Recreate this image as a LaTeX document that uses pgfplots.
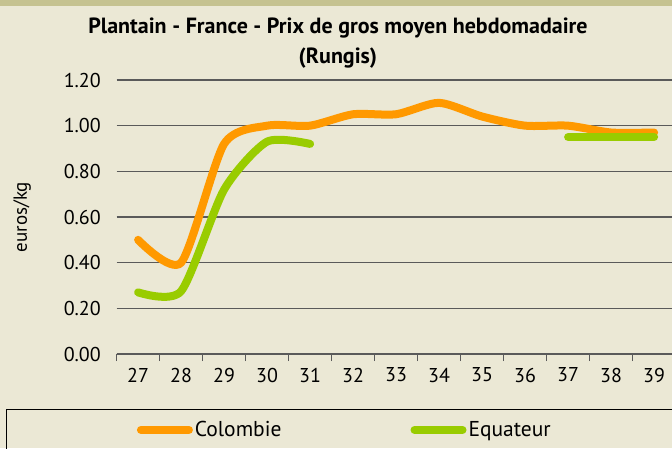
\documentclass[border=0pt]{standalone}
\usepackage{pgfplots}
\pgfplotsset{compat=1.18}
\usepackage{fontspec}
\setmainfont{PT Sans}
\definecolor{bgc}{HTML}{EBE8D5}
\definecolor{bandc}{HTML}{C5C290}
\definecolor{orc}{HTML}{FF9900}
\definecolor{grc}{HTML}{99CC00}
\definecolor{gridc}{HTML}{5A5A5A}
\begin{document}
\begin{tikzpicture}[x=1pt,y=1pt]
\useasboundingbox (0,0) rectangle (672,448);
\clip (0,0) rectangle (672,448);
\fill[bgc] (0,0) rectangle (672,448);
\fill[bandc] (0,442) rectangle (672,448);
\draw[black, line width=1pt] (6,-10) rectangle (690,39);
\begin{axis}[
  at={(116.6pt,94pt)}, anchor=south west,
  width=559pt, height=274pt, scale only axis,
  font=\fontsize{20}{27}\selectfont,
  xmin=26.5, xmax=39.5, ymin=0, ymax=1.2,
  axis x line*=bottom, axis y line*=left,
  x axis line style={draw=gridc, line width=1.2pt},
  y axis line style={draw=none},
  xtick={27,...,39},
  xticklabels={27,28,29,30,31,32,33,34,35,36,37,38,39},
  minor xtick={26.5,27.5,...,39.5},
  major x tick style={draw=none},
  minor x tick style={draw=gridc, line width=1.2pt},
  tick align=outside, minor tick length=7pt,
  xticklabel style={yshift=-6pt},
  ytick={0,0.2,...,1.21},
  ytick style={draw=none},
  ymajorgrids, grid style={draw=gridc, line width=1.2pt},
  /pgf/number format/assume math mode=true,
  yticklabel style={xshift=-8pt, /pgf/number format/.cd, fixed, fixed zerofill, precision=2},
  ylabel={euros/kg},
  ylabel style={at={(axis description cs:-0.169,0.5)}, anchor=center, font=\fontsize{19}{22}\selectfont},
  title={Plantain - France - Prix de gros moyen hebdomadaire\\(Rungis)},
  title style={at={(axis description cs:0.396,1.112)}, anchor=center, align=center, font=\fontsize{22}{30}\selectfont\bfseries},
  legend columns=2,
  legend style={at={(axis description cs:0.036,-0.277)}, anchor=west, draw=none, fill=none, inner sep=0pt,
    font=\fontsize{21.5}{24}\selectfont,
    /tikz/every even column/.append style={column sep=127pt}},
  legend image code/.code={\draw[#1, line width=8pt, line cap=round] (4pt,0) -- (52pt,0);},
  clip=false,
]
\addplot[orc, line width=8pt, line cap=round, smooth, tension=0.42] coordinates {
(27,0.50) (28,0.40) (29,0.92) (30,1.00) (31,1.00) (32,1.05) (33,1.05) (34,1.10) (35,1.04) (36,1.00) (37,1.00) (38,0.97) (39,0.97)};
\addlegendentry{Colombie}
\addplot[grc, line width=8pt, line cap=round, smooth, tension=0.42] coordinates {
(27,0.27) (28,0.275) (29,0.72) (30,0.93) (31,0.92)};
\addlegendentry{Equateur}
\addplot[grc, line width=8pt, line cap=round, smooth, tension=0.42, forget plot] coordinates {
(37,0.95) (38,0.95) (39,0.95)};
\end{axis}
\end{tikzpicture}
\end{document}
